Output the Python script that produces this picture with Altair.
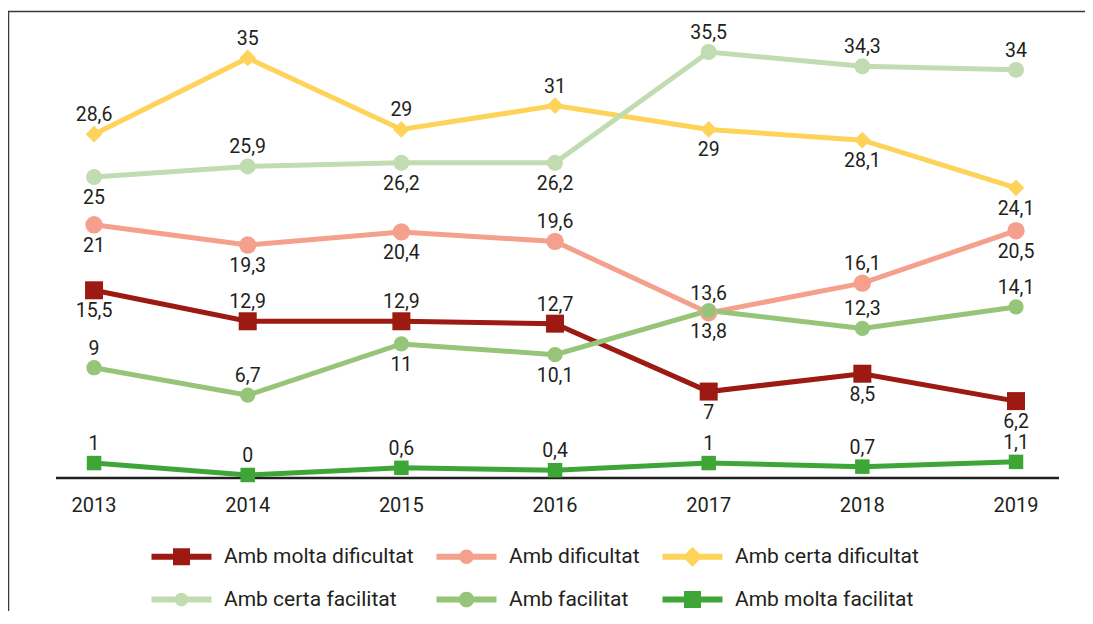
import altair as alt
import pandas as pd

years = [2013, 2014, 2015, 2016, 2017, 2018, 2019]
series = ["Amb molta dificultat", "Amb dificultat", "Amb certa dificultat",
          "Amb certa facilitat", "Amb facilitat", "Amb molta facilitat"]

molta_dificultat = [15.5, 12.9, 12.9, 12.7, 7, 8.5, 6.2]
dificultat = [21, 19.3, 20.4, 19.6, 13.6, 16.1, 20.5]
certa_dificultat = [28.6, 35, 29, 31, 29, 28.1, 24.1]
certa_facilitat = [25, 25.9, 26.2, 26.2, 35.5, 34.3, 34]
facilitat = [9, 6.7, 11, 10.1, 13.8, 12.3, 14.1]
molta_facilitat = [1, 0, 0.6, 0.4, 1, 0.7, 1.1]

# label placement: u = above the marker, d = below
sides_md = ["d", "u", "u", "u", "d", "d", "d"]
sides_d = ["d", "d", "d", "u", "u", "u", "d"]
sides_cd = ["u", "u", "u", "u", "d", "d", "d"]
sides_cf = ["d", "u", "d", "d", "u", "u", "u"]
sides_f = ["u", "u", "d", "d", "d", "u", "u"]
sides_mf = ["u", "u", "u", "u", "u", "u", "u"]

colors = ["#9c1a12", "#f4a08d", "#fdd35a", "#c2dcb2", "#96c57a", "#3da637"]
shapes = ["square", "circle", "diamond", "circle", "circle", "square"]
sizes = [324, 210, 400, 200, 330, 290]

LINE = "M-3,-0.3L3,-0.3L3,0.3L-3,0.3Z"
def circ(r):
    return f" M{-r},0A{r},{r} 0 1,1 {r},0A{r},{r} 0 1,1 {-r},0Z"
legend_paths = [
    LINE + " M-0.85,-0.85L0.85,-0.85L0.85,0.85L-0.85,0.85Z",
    LINE + circ(0.72),
    LINE + " M-1,0L0,-1L1,0L0,1Z",
    LINE + circ(0.68),
    LINE + circ(0.78),
    LINE + " M-0.85,-0.85L0.85,-0.85L0.85,0.85L-0.85,0.85Z",
]

all_vals = [molta_dificultat, dificultat, certa_dificultat, certa_facilitat, facilitat, molta_facilitat]
all_sides = [sides_md, sides_d, sides_cd, sides_cf, sides_f, sides_mf]

rows = []
for s, vals, sides in zip(series, all_vals, all_sides):
    for yr, v, sd in zip(years, vals, sides):
        rows.append(dict(year=yr, value=v, series=s, side=sd,
                         label=f"{v:g}".replace(".", ",")))
df = pd.DataFrame(rows)
years_df = pd.DataFrame({"year": years, "ylab": [str(y) for y in years]})
one = pd.DataFrame({"k": [0]})

W, H = 1077, 600
FONT = "Roboto"
TXT = "#231f20"

xs = alt.Scale(domain=[2012.44, 2019.449], nice=False, zero=False)
ys = alt.Scale(domain=[-11.416, 38.941], nice=False, zero=False)
X = alt.X("year:Q", scale=xs, axis=None)
Y = alt.Y("value:Q", scale=ys, axis=None)
color_scale = alt.Scale(domain=series, range=colors)

frame_top = alt.Chart(one).mark_rule(color="#3a3a3a", strokeWidth=1.5).encode(
    x=alt.value(0), x2=alt.value(W), y=alt.value(0.5), y2=alt.value(0.5))
frame_left = alt.Chart(one).mark_rule(color="#3a3a3a", strokeWidth=1.5).encode(
    x=alt.value(0.5), x2=alt.value(0.5), y=alt.value(0), y2=alt.value(H))
axis_line = alt.Chart(one).mark_rule(color=TXT, strokeWidth=2.5).encode(
    x=alt.value(48), x2=alt.value(1051), y=alt.value(467), y2=alt.value(467))

year_text = alt.Chart(years_df).mark_text(font=FONT, fontSize=20, color=TXT, baseline="middle").encode(
    x=X, y=alt.value(495), text="ylab:N")

lines = alt.Chart(df).mark_line(strokeWidth=5).encode(
    x=X, y=Y, detail="series:N",
    color=alt.Color("series:N", scale=color_scale, legend=None))

points = alt.Chart(df).mark_point(filled=True, opacity=1, strokeWidth=0).encode(
    x=X, y=Y,
    color=alt.Color("series:N", scale=color_scale, legend=None),
    shape=alt.Shape("series:N", scale=alt.Scale(domain=series, range=shapes), legend=None),
    size=alt.Size("series:N", scale=alt.Scale(domain=series, range=sizes), legend=None))

lab_up = alt.Chart(df).transform_filter(alt.datum.side == "u").mark_text(
    dy=-19, font=FONT, fontSize=19.5, color=TXT, baseline="middle").encode(x=X, y=Y, text="label:N")
lab_dn = alt.Chart(df).transform_filter(alt.datum.side == "d").mark_text(
    dy=21, font=FONT, fontSize=19.5, color=TXT, baseline="middle").encode(x=X, y=Y, text="label:N")

leg = alt.Legend(orient="none", legendX=163, legendY=535, columns=3, columnPadding=22,
                 direction="horizontal",
                 rowPadding=21, labelFont=FONT, labelFontSize=21, labelColor=TXT,
                 labelOffset=32, symbolSize=400, symbolStrokeWidth=0, symbolOpacity=1,
                 title=None, labelLimit=400, padding=0)

dummy = alt.Chart(df).transform_filter("false").mark_point(filled=True).encode(
    x=X, y=Y,
    color=alt.Color("series:N", scale=color_scale, legend=leg),
    shape=alt.Shape("series:N", scale=alt.Scale(domain=series, range=legend_paths), legend=leg))

chart = alt.layer(
    frame_top, frame_left, axis_line, year_text, lines, points, lab_up, lab_dn, dummy
).resolve_scale(
    color="independent", shape="independent", size="independent"
).properties(
    width=W, height=H,
    autosize=alt.AutoSizeParams(type="none"),
    padding={"left": 0, "top": 3, "right": 0, "bottom": 0},
    background="white",
).configure_view(stroke="transparent", strokeOpacity=0, strokeWidth=0)

chart.save("out.html", embed_options={"renderer": "svg", "actions": False})
